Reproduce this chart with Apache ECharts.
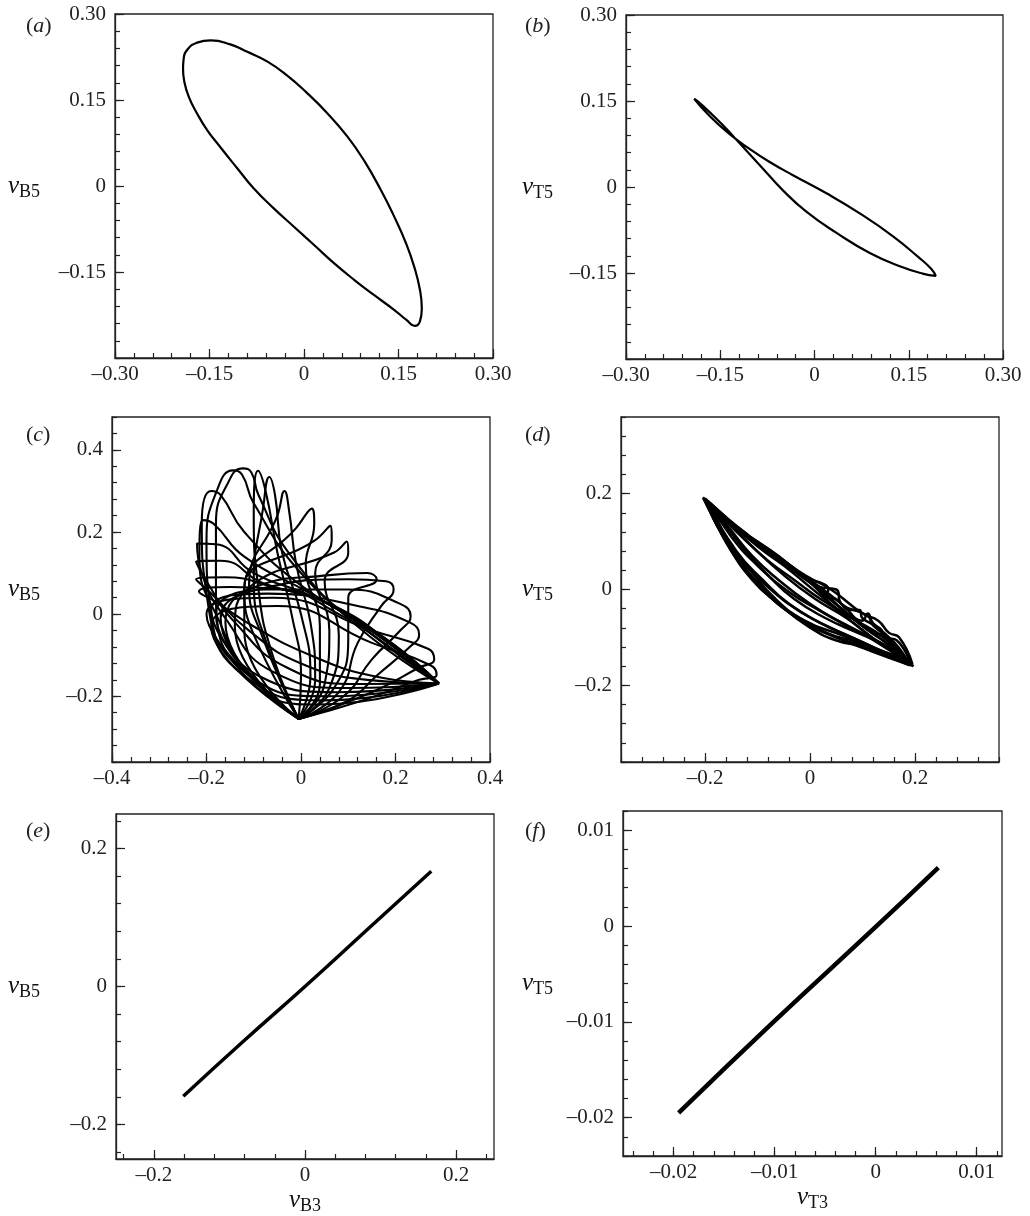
<!DOCTYPE html>
<html>
<head>
<meta charset="utf-8">
<script src="https://cdn.jsdelivr.net/npm/echarts@6/dist/echarts.min.js"></script>
<style>
  html, body { margin: 0; padding: 0; background: #fff; }
  #chart { width: 1030px; height: 1216px; }
</style>
</head>
<body>
<div id="chart"></div>
<script>
const FONT = '"Liberation Serif", "DejaVu Serif", serif';

// (a) periodic orbit, v_B3 -> v_B5
const loopA = [
  [-0.148, 0.254], [-0.170, 0.250], [-0.185, 0.238], [-0.191, 0.222], [-0.192, 0.204],
  [-0.190, 0.182], [-0.183, 0.156], [-0.170, 0.127], [-0.154, 0.098], [-0.133, 0.068],
  [-0.106, 0.031], [-0.080, -0.004], [-0.048, -0.039], [-0.016, -0.071], [0.016, -0.103],
  [0.048, -0.135], [0.080, -0.164], [0.111, -0.190], [0.143, -0.216], [0.163, -0.234],
  [0.176, -0.244], [0.184, -0.236], [0.187, -0.214], [0.184, -0.181], [0.175, -0.141],
  [0.162, -0.100], [0.143, -0.053], [0.122, -0.007], [0.095, 0.045], [0.069, 0.086],
  [0.037, 0.127], [0.005, 0.162], [-0.027, 0.193], [-0.058, 0.217], [-0.090, 0.234],
  [-0.117, 0.247], [-0.148, 0.254], [-0.170, 0.250]
];

// (b) thin loop, v_T3 -> v_T5
const loopB = [
  [-0.1915, 0.154], [-0.168, 0.125], [-0.136, 0.093], [-0.104, 0.067], [-0.072, 0.044],
  [-0.035, 0.021], [0.019, -0.011], [0.072, -0.046], [0.125, -0.086], [0.165, -0.122],
  [0.186, -0.143], [0.193, -0.155], [0.172, -0.151], [0.138, -0.139], [0.088, -0.115],
  [0.035, -0.080], [-0.013, -0.043], [-0.051, -0.005], [-0.082, 0.032], [-0.114, 0.070],
  [-0.146, 0.108], [-0.178, 0.142], [-0.1915, 0.154]
];

// (c) quasi-periodic orbit, v_B3 -> v_B5 (loops)
const cLoops = [
  // loops closing at the right corner
  [[0.292,-0.169],[0.20,-0.09],[0.08,0.0],[-0.05,0.062],[-0.15,0.066],[-0.216,0.055],[-0.18,0.03],[-0.10,-0.03],[0.02,-0.10],[0.15,-0.15],[0.292,-0.169]],
  [[0.292,-0.169],[0.20,-0.08],[0.07,0.02],[-0.06,0.066],[-0.16,0.09],[-0.222,0.085],[-0.19,0.05],[-0.11,-0.04],[0.0,-0.12],[0.14,-0.16],[0.292,-0.169]],
  [[0.292,-0.169],[0.19,-0.07],[0.05,0.03],[-0.08,0.075],[-0.17,0.13],[-0.222,0.128],[-0.20,0.08],[-0.14,-0.02],[-0.03,-0.13],[0.12,-0.17],[0.292,-0.169]],
  [[0.292,-0.169],[0.18,-0.06],[0.03,0.04],[-0.10,0.10],[-0.18,0.17],[-0.22,0.172],[-0.21,0.10],[-0.16,-0.01],[-0.06,-0.14],[0.10,-0.18],[0.292,-0.169]],
  [[0.292,-0.169],[0.16,-0.05],[0.02,0.05],[-0.12,0.14],[-0.185,0.22],[-0.208,0.229],[-0.215,0.14],[-0.18,0.0],[-0.09,-0.15],[0.08,-0.19],[0.292,-0.169]],
  [[0.292,-0.169],[0.15,-0.04],[0.0,0.07],[-0.12,0.20],[-0.17,0.29],[-0.19,0.30],[-0.21,0.22],[-0.20,0.05],[-0.12,-0.14],[0.06,-0.20],[0.292,-0.169]],
  [[0.292,-0.169],[0.14,-0.04],[0.0,0.10],[-0.10,0.27],[-0.125,0.34],[-0.144,0.35],[-0.175,0.31],[-0.20,0.18],[-0.19,0.0],[-0.12,-0.15],[0.05,-0.21],[0.292,-0.169]],
  [[0.292,-0.169],[0.12,-0.03],[-0.02,0.14],[-0.09,0.29],[-0.105,0.345],[-0.123,0.355],[-0.15,0.33],[-0.18,0.22],[-0.18,0.04],[-0.11,-0.16],[0.04,-0.22],[0.292,-0.169]],
  // loops closing at the bottom vertex
  [[-0.005,-0.255],[-0.06,-0.10],[-0.09,0.06],[-0.10,0.25],[-0.091,0.349],[-0.075,0.30],[-0.05,0.15],[-0.02,0.0],[0.0,-0.15],[-0.005,-0.255]],
  [[-0.005,-0.255],[-0.07,-0.08],[-0.10,0.08],[-0.08,0.26],[-0.067,0.334],[-0.055,0.29],[-0.04,0.15],[0.0,0.0],[0.02,-0.15],[-0.005,-0.255]],
  [[-0.005,-0.255],[-0.08,-0.06],[-0.11,0.07],[-0.05,0.24],[-0.035,0.30],[-0.025,0.25],[-0.01,0.12],[0.02,-0.02],[0.03,-0.16],[-0.005,-0.255]],
  [[-0.005,-0.255],[-0.10,-0.05],[-0.12,0.06],[-0.01,0.21],[0.023,0.257],[0.028,0.22],[0.01,0.12],[0.04,-0.03],[0.04,-0.17],[-0.005,-0.255]],
  [[-0.005,-0.255],[-0.12,-0.04],[-0.12,0.065],[0.03,0.18],[0.062,0.215],[0.065,0.18],[0.03,0.10],[0.06,-0.04],[0.05,-0.17],[-0.005,-0.255]],
  [[-0.005,-0.255],[-0.14,-0.03],[-0.11,0.065],[0.07,0.15],[0.097,0.177],[0.10,0.15],[0.05,0.08],[0.08,-0.05],[0.06,-0.18],[-0.005,-0.255]],
  [[-0.005,-0.255],[-0.16,-0.02],[-0.10,0.065],[0.06,0.095],[0.14,0.10],[0.16,0.085],[0.10,0.04],[0.10,-0.06],[0.07,-0.18],[-0.005,-0.255]],
  [[-0.005,-0.255],[-0.17,-0.01],[-0.08,0.063],[0.10,0.085],[0.18,0.08],[0.196,0.06],[0.17,0.02],[0.12,-0.07],[0.08,-0.19],[-0.005,-0.255]],
  [[-0.005,-0.255],[-0.18,0.0],[-0.07,0.06],[0.10,0.06],[0.21,0.025],[0.232,-0.005],[0.21,-0.04],[0.15,-0.11],[0.09,-0.20],[-0.005,-0.255]],
  [[-0.005,-0.255],[-0.19,0.01],[-0.07,0.05],[0.12,0.02],[0.23,-0.02],[0.25,-0.05],[0.23,-0.08],[0.16,-0.15],[0.10,-0.21],[-0.005,-0.255]],
  [[-0.005,-0.255],[-0.20,0.0],[-0.06,0.04],[0.15,-0.04],[0.27,-0.085],[0.282,-0.11],[0.25,-0.13],[0.15,-0.19],[-0.005,-0.255]],
  [[-0.005,-0.255],[-0.19,-0.03],[-0.05,0.02],[0.15,-0.07],[0.275,-0.125],[0.287,-0.148],[0.25,-0.16],[0.13,-0.21],[-0.005,-0.255]]
];

// (d) bundle of thin loops, v_T3 -> v_T5
const dLoops = [
  [[-0.204,0.192],[-0.162,0.151],[-0.13,0.124],[-0.092,0.092],[-0.047,0.058],[-0.002,0.016],[0.06,-0.04],[0.12,-0.09],[0.16,-0.125],[0.197,-0.16],[0.158,-0.144],[0.101,-0.119],[0.049,-0.106],[-0.002,-0.078],[-0.053,-0.036],[-0.098,0.0125],[-0.143,0.075],[-0.181,0.144],[-0.204,0.192]],
  [[-0.2,0.188],[-0.15,0.14],[-0.1,0.09],[-0.05,0.05],[0.0,0.005],[0.05,-0.04],[0.1,-0.085],[0.15,-0.125],[0.19,-0.155],[0.14,-0.13],[0.08,-0.1],[0.02,-0.07],[-0.04,-0.03],[-0.09,0.02],[-0.14,0.08],[-0.2,0.188]],
  [[-0.198,0.186],[-0.14,0.13],[-0.09,0.09],[-0.04,0.052],[0.0,0.02],[0.021,0.014],[0.035,0.0],[0.03,-0.015],[0.05,-0.02],[0.075,-0.043],[0.094,-0.043],[0.1,-0.06],[0.133,-0.081],[0.146,-0.1],[0.165,-0.106],[0.19,-0.15],[0.13,-0.125],[0.06,-0.095],[-0.01,-0.065],[-0.07,-0.015],[-0.12,0.05],[-0.17,0.12],[-0.198,0.186]],
  [[-0.195,0.185],[-0.13,0.12],[-0.07,0.07],[-0.02,0.03],[0.03,-0.01],[0.07,-0.05],[0.11,-0.085],[0.15,-0.115],[0.188,-0.15],[0.16,-0.14],[0.1,-0.11],[0.04,-0.08],[-0.02,-0.045],[-0.08,0.005],[-0.13,0.06],[-0.17,0.12],[-0.195,0.185]],
  [[-0.19,0.18],[-0.12,0.115],[-0.06,0.07],[0.0,0.015],[0.02,0.005],[0.05,0.0],[0.06,-0.03],[0.11,-0.055],[0.12,-0.075],[0.16,-0.11],[0.19,-0.158],[0.17,-0.15],[0.12,-0.13],[0.05,-0.1],[-0.02,-0.06],[-0.08,-0.01],[-0.14,0.07],[-0.19,0.18]],
  [[-0.185,0.17],[-0.13,0.11],[-0.08,0.06],[-0.03,0.02],[0.02,-0.02],[0.08,-0.06],[0.14,-0.1],[0.19,-0.155],[0.14,-0.115],[0.08,-0.08],[0.02,-0.045],[-0.04,-0.005],[-0.1,0.05],[-0.15,0.11],[-0.185,0.17]],
  [[-0.2,0.19],[-0.17,0.16],[-0.12,0.11],[-0.06,0.068],[-0.01,0.03],[0.04,0.0],[0.1,-0.05],[0.13,-0.065],[0.15,-0.09],[0.17,-0.1],[0.195,-0.155],[0.15,-0.135],[0.09,-0.11],[0.03,-0.09],[-0.03,-0.055],[-0.09,0.0],[-0.15,0.08],[-0.2,0.19]],
  [[-0.202,0.19],[-0.16,0.145],[-0.11,0.1],[-0.06,0.062],[0.0,0.02],[0.06,-0.03],[0.1,-0.065],[0.11,-0.05],[0.12,-0.07],[0.15,-0.1],[0.192,-0.158],[0.16,-0.138],[0.11,-0.12],[0.05,-0.1],[-0.01,-0.07],[-0.06,-0.03],[-0.11,0.02],[-0.16,0.1],[-0.202,0.19]],
  [[-0.196,0.184],[-0.15,0.135],[-0.1,0.1],[-0.05,0.06],[-0.01,0.025],[0.01,0.005],[0.04,-0.03],[0.08,-0.06],[0.12,-0.09],[0.14,-0.095],[0.16,-0.12],[0.19,-0.152],[0.15,-0.12],[0.09,-0.09],[0.03,-0.06],[-0.03,-0.02],[-0.08,0.03],[-0.13,0.09],[-0.196,0.184]],
  [[-0.2,0.188],[-0.155,0.13],[-0.11,0.07],[-0.06,0.02],[0.0,-0.03],[0.06,-0.07],[0.12,-0.105],[0.19,-0.155],[0.13,-0.11],[0.07,-0.06],[0.01,-0.02],[-0.05,0.03],[-0.11,0.09],[-0.2,0.188]]
];

// (e) and (f) synchronised states
const lineE = [[-0.161, -0.159], [-0.08, -0.078], [0, 0], [0.08, 0.08], [0.167, 0.167]];
const lineF = [[-0.0195, -0.0195], [-0.01, -0.0099], [0, -0.0001], [0.0062, 0.0061]];

// tick labels
const labelsAB = [-0.3, -0.15, 0, 0.15, 0.3];
const yLabelsAB = [-0.15, 0, 0.15, 0.3];
const xLabelsC = [-0.4, -0.2, 0, 0.2, 0.4];
const yLabelsC = [-0.2, 0, 0.2, 0.4];
const labelsD = [-0.2, 0, 0.2];
const labelsE = [-0.2, 0, 0.2];
const labelsF = [-0.02, -0.01, 0, 0.01];

const panels = [
  { tag: 'a', box: [115, 14, 378, 344], x: [-0.3, 0.3, 0.03], y: [-0.3, 0.3, 0.03], xLab: labelsAB, yLab: yLabelsAB, dec: 2, yName: 'B5', gap: 75, w: 2.2, lines: [loopA] },
  { tag: 'b', box: [626, 15, 377, 344], x: [-0.3, 0.3, 0.03], y: [-0.3, 0.3, 0.03], xLab: labelsAB, yLab: yLabelsAB, dec: 2, yName: 'T5', gap: 73, w: 2.2, lines: [loopB] },
  { tag: 'c', box: [112, 417, 378, 345], x: [-0.4, 0.4, 0.04], y: [-0.36, 0.48, 0.04], xLab: xLabelsC, yLab: yLabelsC, dec: 1, yName: 'B5', gap: 72, w: 2.1, lines: cLoops },
  { tag: 'd', box: [621, 417, 378, 345], x: [-0.36, 0.36, 0.04], y: [-0.36, 0.36, 0.04], xLab: labelsD, yLab: labelsD, dec: 1, yName: 'T5', gap: 68, w: 2.5, lines: dLoops },
  { tag: 'e', box: [116, 814, 378, 345], x: [-0.25, 0.25, 0.04], y: [-0.25, 0.25, 0.04], xLab: labelsE, yLab: labelsE, dec: 1, yName: 'B5', xName: 'B3', gap: 76, w: 3.5, lines: [lineE] },
  { tag: 'f', box: [623, 811, 379, 345], x: [-0.025, 0.0125, 0.002], y: [-0.024, 0.012, 0.002], xLab: labelsF, yLab: labelsF, dec: 2, yName: 'T5', xName: 'T3', gap: 70, w: 4.5, lines: [lineF] }
];

function steps(min, max, step) {
  const out = [];
  for (let v = Math.ceil(min / step - 1e-9) * step; v <= max + 1e-9; v += step) {
    out.push(Math.round(v * 1e6) / 1e6);
  }
  return out;
}
function fmt(dec) {
  return v => v === 0 ? '0' : (v < 0 ? '\u2013' : '') + Math.abs(v).toFixed(dec);
}
const nameRich = {
  v: { fontFamily: FONT, fontStyle: 'italic', fontSize: 25, lineHeight: 30, color: '#111', verticalAlign: 'middle' },
  s: { fontFamily: FONT, fontSize: 18, lineHeight: 16, color: '#111', verticalAlign: 'bottom' }
};

function makeAxes(dim, p, k) {
  const [min, max, step] = p[dim];
  const labels = dim === 'x' ? p.xLab : p.yLab;
  const base = { gridIndex: k, type: 'value', min: min, max: max, position: dim === 'x' ? 'bottom' : 'left', splitLine: { show: false } };
  const main = Object.assign({}, base, {
    axisLine: { show: true, onZero: false, lineStyle: { color: '#222', width: 1.3 } },
    axisTick: { show: true, inside: true, length: 5, customValues: steps(min, max, step), lineStyle: { color: '#222', width: 1.2 } },
    axisLabel: { show: true, customValues: labels, formatter: fmt(p.dec), color: '#222', fontFamily: FONT, fontSize: 21, margin: dim === 'x' ? 6 : 9 }
  });
  const nm = dim === 'x' ? p.xName : p.yName;
  if (nm) {
    main.name = '{v|v}{s|' + nm + '}';
    main.nameLocation = 'middle';
    main.nameRotate = 0;
    main.nameGap = dim === 'x' ? 26 : p.gap;
    main.nameTextStyle = { rich: nameRich };
  }
  const major = Object.assign({}, base, {
    axisLine: { show: false, onZero: false },
    axisTick: { show: true, inside: true, length: 9, customValues: labels, lineStyle: { color: '#222', width: 1.2 } },
    axisLabel: { show: false }
  });
  return [main, major];
}

const grid = [], xAxis = [], yAxis = [], series = [], title = [];
panels.forEach((p, k) => {
  grid.push({ left: p.box[0], top: p.box[1], width: p.box[2], height: p.box[3], show: true, borderColor: '#222', borderWidth: 1.3, backgroundColor: 'transparent' });
  xAxis.push(...makeAxes('x', p, k));
  yAxis.push(...makeAxes('y', p, k));
  p.lines.forEach(pts => {
    series.push({
      type: 'line', xAxisIndex: 2 * k, yAxisIndex: 2 * k, data: pts,
      smooth: 0.5, symbol: 'none', silent: true,
      lineStyle: { color: '#000', width: p.w }
    });
  });
  title.push({
    text: '{p|(}{i|' + p.tag + '}{p|)}',
    left: k % 2 === 0 ? 21 : 520,
    top: [10, 10, 419, 419, 815, 815][k],
    textStyle: { fontWeight: 'normal', rich: {
      p: { fontFamily: FONT, fontSize: 22, fontWeight: 'normal', color: '#222' },
      i: { fontFamily: FONT, fontSize: 22, fontWeight: 'normal', fontStyle: 'italic', color: '#222' }
    } }
  });
});

const chart = echarts.init(document.getElementById('chart'));
chart.setOption({ animation: false, backgroundColor: '#fff', title, grid, xAxis, yAxis, series });
</script>
</body>
</html>
